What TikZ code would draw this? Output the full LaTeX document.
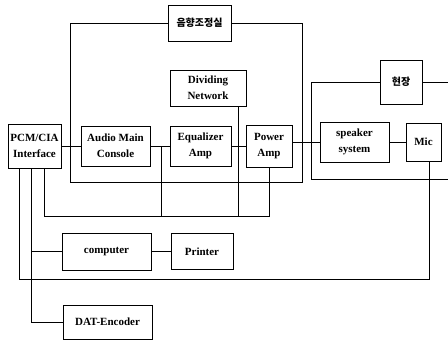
\documentclass[tikz,border=0pt]{standalone}
\usepackage{fontspec}
\setmainfont{Liberation Serif}
\newfontfamily\krfont{Noto Sans CJK KR}

\begin{document}
\begin{tikzpicture}[x=1pt, y=-1pt, line width=0.9pt,
	box/.style={draw, inner sep=0pt, align=center, font=\fontsize{11}{16}\selectfont\bfseries},
	krbox/.style={draw, inner sep=0pt, font=\krfont\fontsize{10}{12}\selectfont\bfseries}]
	\useasboundingbox (0,0) rectangle (448,340);
	
	% 1. 标题方框与上层设备
	\node[krbox, minimum width=63pt, minimum height=36pt] (ctrl) at (199.5,23) {음향조정실};
	\node[krbox, minimum width=42pt, minimum height=44pt] (site) at (401,82) {현장};
	\node[box, minimum width=76pt, minimum height=36pt] (divnet) at (208,88) {Dividing\\Network};
	
	% 2. 主信号链
	\node[box, minimum width=53pt, minimum height=44pt] (pcm) at (34.5,146) {PCM/CIA\\Interface};
	\node[box, minimum width=69pt, minimum height=40pt] (audio) at (115.5,146) {Audio Main\\Console};
	\node[box, minimum width=61pt, minimum height=40pt] (eq) at (200.5,146) {Equalizer\\Amp};
	\node[box, minimum width=46pt, minimum height=42pt] (power) at (269,146) {Power\\Amp};
	\node[box, minimum width=69pt, minimum height=40pt] (spk) at (354.5,142) {speaker\\system};
	\node[box, minimum width=35pt, minimum height=38pt] (mic) at (423.5,142) {Mic};
	
	% 3. 下层设备
	\node[box, minimum width=89pt, minimum height=37pt] (computer) at (106.5,251.5) {computer};
	\node[box, minimum width=62pt, minimum height=36pt] (printer) at (202,251.5) {Printer};
	\node[box, minimum width=89pt, minimum height=34pt] (dat) at (107.5,322) {DAT-Encoder};
	
	% 4. 区域边框
	\draw (ctrl) -| (70,182) -| (302,23) -- (ctrl.east);
	\draw (site) -| (311,179) -- (448,179);
	\draw (site.east) -- (448,82);
	
	% 5. 连线
	\draw (pcm) -- (audio);
	\draw (audio) -- (eq);
	\draw (eq) -- (power);
	\draw (power.east |- spk) -- (spk);
	\draw (spk) -- (mic);
	\draw (computer) -- (printer);
	
	\coordinate (bus) at (269,216);
	\coordinate (ae) at (161,146);
	\coordinate (ep) at (238,146);
	\draw ([xshift=9.5pt]pcm.south) |- (bus) -- (power.south);
	\draw (ae) -- (ae |- bus);
	\draw (divnet.south -| ep) -- (ep |- bus);
	
	\coordinate (micbus) at (19,279);
	\draw ([xshift=5.5pt]mic.south) |- (micbus) -- (micbus |- pcm.south);
	
	\coordinate (cd) at (31,322);
	\draw (cd |- pcm.south) -- (cd) -- (dat);
	\draw (cd |- computer) -- (computer);
\end{tikzpicture}
\end{document}
